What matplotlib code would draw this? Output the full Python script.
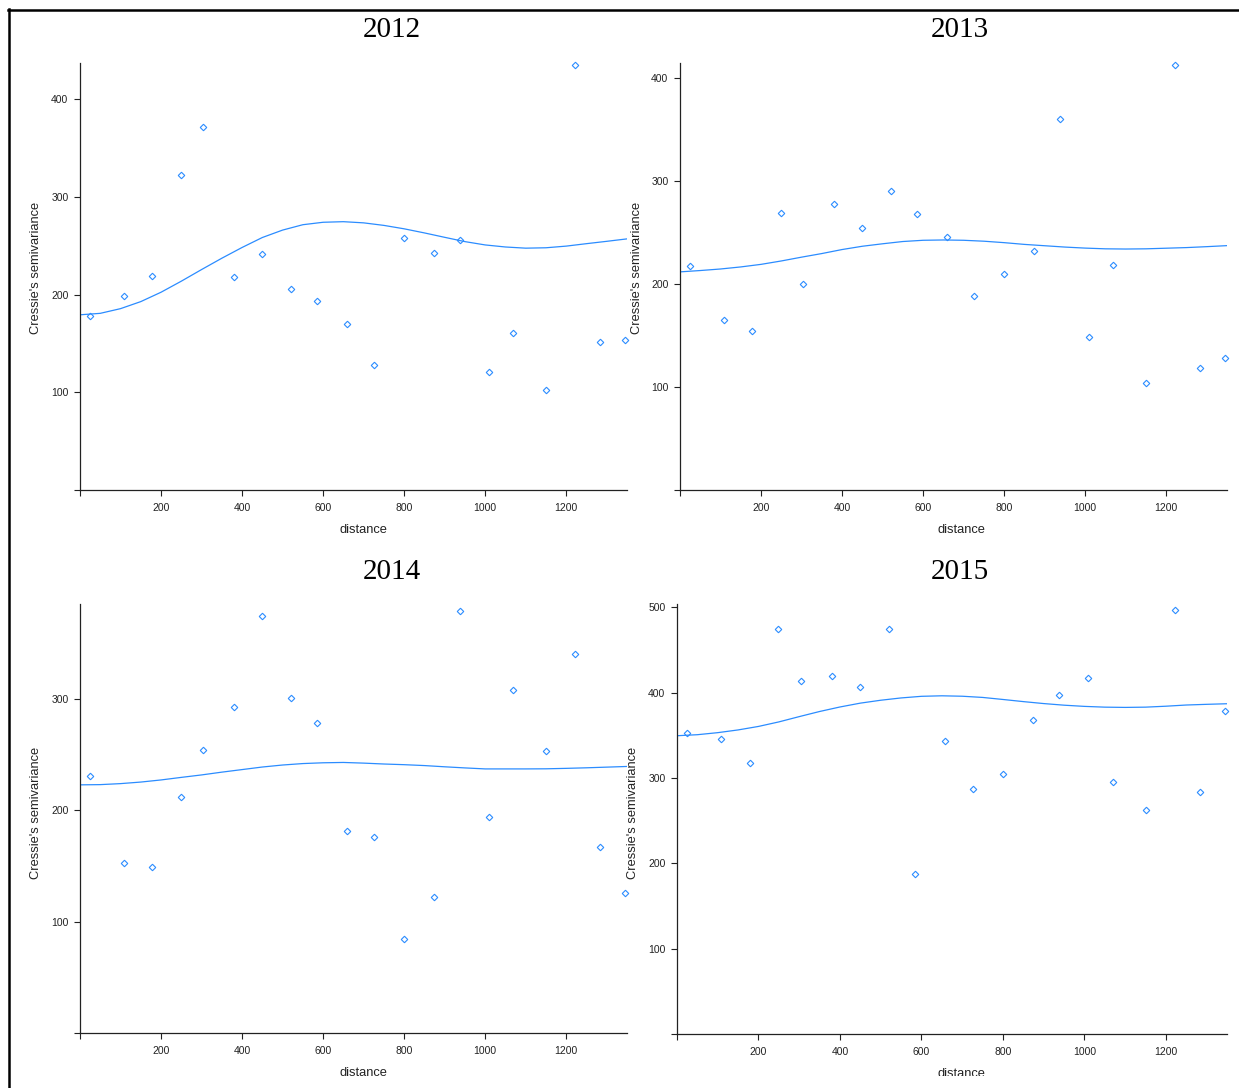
import numpy as np
import matplotlib.pyplot as plt
from matplotlib.lines import Line2D
from matplotlib.patches import Rectangle

# lag distances, common to every year
dist = [25, 109, 178, 249, 304, 380, 449, 521, 585, 659,
        726, 800, 874, 938, 1010, 1069, 1151, 1222, 1284, 1346]

# Cressie's semivariance per year
sv2012 = [178, 199, 219, 322, 372, 218, 242, 206, 193, 170,
          128, 258, 243, 256, 121, 161, 102, 435, 151, 154]
sv2013 = [218, 165, 155, 269, 200, 278, 255, 291, 268, 246,
          189, 210, 232, 361, 149, 219, 104, 413, 119, 128]
sv2014 = [231, 153, 149, 212, 254, 293, 374, 301, 278, 181,
          176, 84, 122, 379, 194, 308, 253, 340, 167, 126]
sv2015 = [353, 346, 318, 475, 414, 420, 407, 475, 187, 344,
          287, 305, 368, 397, 417, 295, 262, 497, 284, 379]

curve_d = [0, 50, 100, 150, 200, 250, 300, 350, 400, 450, 500, 550, 600, 650,
           700, 750, 800, 850, 900, 950, 1000, 1050, 1100, 1150, 1200, 1250, 1300, 1350]
fit2012 = [179.3, 180.8, 185.6, 192.8, 202.4, 213.7, 225.6, 237.2, 248.2, 258.4,
           266, 271.5, 274, 274.6, 273.4, 270.8, 267.3, 263.1, 258.6, 254.2,
           250.8, 248.7, 247.5, 247.9, 249.6, 252.1, 254.5, 257]
fit2013 = [212, 213.3, 214.8, 216.8, 219.3, 222.6, 226.3, 229.8, 233.7, 236.9,
           239.3, 241.5, 242.7, 243, 242.7, 241.8, 240.4, 238.7, 237.4, 236.1,
           235.1, 234.4, 234.2, 234.4, 235, 235.6, 236.5, 237.5]
fit2014 = [222.7, 222.9, 223.8, 225.2, 227.1, 229.4, 231.6, 234.1, 236.4, 238.7,
           240.5, 241.8, 242.5, 242.8, 242.2, 241.4, 240.8, 240, 238.9, 237.9,
           237, 237, 237, 237.1, 237.5, 238, 238.6, 239.2]
fit2015 = [349.6, 350.8, 353.2, 356.4, 360.5, 365.8, 372, 378, 383.3, 387.8,
           391.2, 393.9, 395.8, 396.4, 395.9, 394.5, 392.1, 389.6, 387.3, 385.4,
           384, 383.1, 382.8, 383.1, 384.2, 385.6, 386.4, 387.1]

years = ['2012', '2013', '2014', '2015']
ytop = [437, 415, 385, 504]
yticks = [[0, 100, 200, 300, 400], [0, 100, 200, 300, 400],
          [0, 100, 200, 300], [0, 100, 200, 300, 400, 500]]
xticks = [0, 200, 400, 600, 800, 1000, 1200]

W, H = 1239, 1088
# axes boxes in pixels: left, top, right, bottom
boxes = [(80, 63, 627, 490), (680, 63, 1227, 490),
         (80, 604, 627, 1033), (677, 604, 1227, 1034)]
title_xy = [(392, 30), (960, 30), (392, 572), (960, 572)]
ylab_xy = [(36, 268), (637, 268), (36, 813), (633, 813)]
xlab_xy = [(363, 530), (961, 530), (363, 1073), (961, 1074)]

blue = '#2b8cff'
sans = 'Liberation Sans'

fig = plt.figure(figsize=(W / 100, H / 100), dpi=100)

for i, (sv, fit) in enumerate(zip([sv2012, sv2013, sv2014, sv2015],
                                  [fit2012, fit2013, fit2014, fit2015])):
    l, t, r, b = boxes[i]
    ax = fig.add_axes([l / W, 1 - b / H, (r - l) / W, (b - t) / H])
    ax.plot(curve_d, fit, color=blue, lw=0.9)
    ax.plot(dist, sv, 'D', ms=3.3, mfc='none', mec=blue, mew=0.8, clip_on=False)
    ax.set_xlim(0, 1350)
    ax.set_ylim(0, ytop[i])
    for s in ['top', 'right']:
        ax.spines[s].set_visible(False)
    for s in ['left', 'bottom']:
        ax.spines[s].set_linewidth(0.9)
        ax.spines[s].set_color('#222222')
    ax.set_xticks(xticks)
    ax.set_xticklabels([''] + [str(v) for v in xticks[1:]])
    ax.set_yticks(yticks[i])
    ax.set_yticklabels([''] + [str(v) for v in yticks[i][1:]])
    ax.tick_params(length=4.3, width=0.8, color='#222222', labelsize=7.5,
                   labelcolor='#222222')
    ax.tick_params(axis='x', pad=5)
    ax.tick_params(axis='y', pad=4)
    for lab in ax.get_xticklabels() + ax.get_yticklabels():
        lab.set_family(sans)

    fig.text(title_xy[i][0] / W, 1 - title_xy[i][1] / H, years[i],
             family='Liberation Serif', fontsize=21, ha='center', va='center')
    fig.text(ylab_xy[i][0] / W, 1 - ylab_xy[i][1] / H, "Cressie's semivariance",
             family=sans, fontsize=9.3, rotation=90, ha='center', va='center',
             color='#222222')
    fig.text(xlab_xy[i][0] / W, 1 - xlab_xy[i][1] / H, 'distance',
             family=sans, fontsize=9.3, ha='center', va='center', color='#222222')

# bottom right of the page is cut off in the source
fig.add_artist(Rectangle((620 / W, 0), 1 - 620 / W, 12 / H, transform=fig.transFigure,
                         facecolor='white', edgecolor='none', zorder=10))

# page frame on the left and top
fig.add_artist(Line2D([9 / W, 9 / W], [0, 1 - 9 / H], transform=fig.transFigure,
                      color='black', lw=1.8))
fig.add_artist(Line2D([8 / W, 1], [1 - 10 / H, 1 - 10 / H], transform=fig.transFigure,
                      color='black', lw=1.8))

fig.savefig('out.png', dpi=100)
